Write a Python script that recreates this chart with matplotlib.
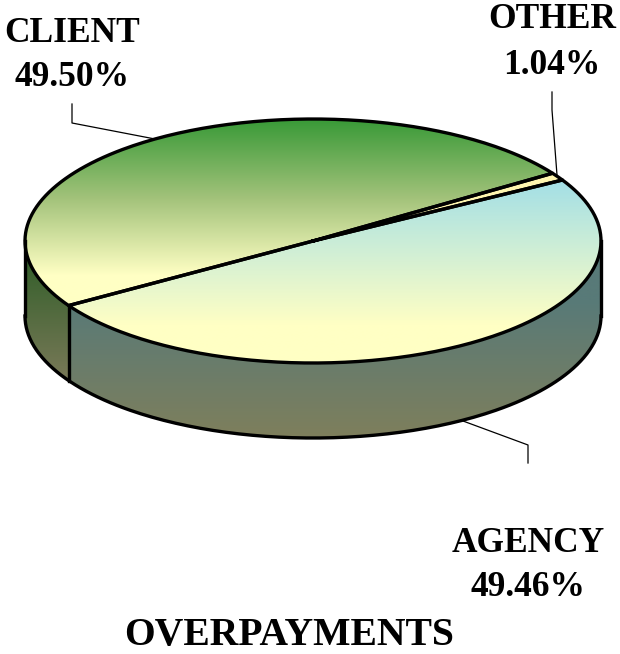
import numpy as np
import matplotlib
matplotlib.use('Agg')
import matplotlib.pyplot as plt
from matplotlib.colors import LinearSegmentedColormap
from matplotlib.patches import PathPatch
from matplotlib.path import Path

# clockwise order round the pie
categories = ['AGENCY', 'CLIENT', 'OTHER']
shares = [49.46, 49.50, 1.04]
top_colors = {'AGENCY': ['#a3dfe6', '#ffffc4'], 'CLIENT': ['#3a9a38', '#a2c27a', '#ffffc4'], 'OTHER': ['#fff6b0', '#fff6b0']}
top_spans = {'AGENCY': (180, 325), 'CLIENT': (120, 275), 'OTHER': (170, 240)}
side_colors = {'AGENCY': ['#587a78', '#7e7f5c'], 'CLIENT': ['#36602c', '#7c7a5a']}
side_spans = {'AGENCY': (300, 437), 'CLIENT': (262, 385)}

CX, CY, RX, RY, DEPTH = 313, 241, 288, 122, 75
START = 30
LW = 2.4


def arc(a0, a1, n=200):
    t = np.radians(np.linspace(a0, a1, n))
    return CX + RX * np.cos(t), CY - RY * np.sin(t)


def gradient_fill(ax, x, y, colors, span):
    # colours hold past the end of the span, so pad the image out to the shape
    cmap = LinearSegmentedColormap.from_list('g', colors)
    verts = np.column_stack([x, y])
    clip = PathPatch(Path(np.vstack([verts, verts[:1]]), closed=True), fc='none', ec='none', transform=ax.transData)
    ax.add_patch(clip)
    y0, y1 = y.min(), y.max()
    rows = np.linspace(y0, y1, 512)
    grad = np.clip((rows - span[0]) / (span[1] - span[0]), 0, 1).reshape(-1, 1)
    im = ax.imshow(grad, extent=(x.min(), x.max(), y1, y0), cmap=cmap, vmin=0, vmax=1,
                   aspect='auto', interpolation='bilinear', zorder=2)
    im.set_clip_path(clip)


def main():
    fig = plt.figure(figsize=(6.2, 6.54), dpi=100)
    ax = fig.add_axes([0, 0, 1, 1])

    edges = START - np.cumsum([0] + shares) * 3.6
    cut = edges[1]

    # side wall, front half only
    for name, lo, hi in [('AGENCY', 0, cut), ('CLIENT', cut, -180)]:
        x, y = arc(lo, hi)
        wx = np.concatenate([x, x[::-1]])
        wy = np.concatenate([y, y[::-1] + DEPTH])
        gradient_fill(ax, wx, wy, side_colors[name], side_spans[name])

    x, y = arc(0, -180)
    ax.plot(x, y + DEPTH, color='black', lw=LW, zorder=4)
    for ex in (CX - RX, CX + RX):
        ax.plot([ex, ex], [CY, CY + DEPTH], color='black', lw=LW, zorder=4)
    cx_, cy_ = arc(cut, cut, 1)
    ax.plot([cx_[0], cx_[0]], [cy_[0], cy_[0] + DEPTH], color='black', lw=LW, zorder=4)

    # top faces
    for i, name in enumerate(categories):
        x, y = arc(edges[i], edges[i + 1])
        sx = np.concatenate([[CX], x])
        sy = np.concatenate([[CY], y])
        gradient_fill(ax, sx, sy, top_colors[name], top_spans[name])
        ax.plot(np.append(sx, CX), np.append(sy, CY), color='black', lw=LW, zorder=4, solid_joinstyle='round')

    # leader lines
    ax.plot([72, 72, 155], [104, 123, 139], color='black', lw=0.9, zorder=3)
    ax.plot([552, 552, 557], [92, 110, 175], color='black', lw=0.9, zorder=3)
    ax.plot([463, 528, 528], [421, 445, 463], color='black', lw=0.9, zorder=3)

    font = dict(family='Liberation Serif', weight='bold', ha='center', va='center', color='black')
    labels = {'CLIENT': (72, 33, 78), 'OTHER': (552, 20, 65), 'AGENCY': (528, 543, 588)}
    for name, share in zip(categories, shares):
        lx, ly1, ly2 = labels[name]
        ax.text(lx, ly1, name, fontsize=25.5, **font)
        ax.text(lx, ly2, f'{share:.2f}%', fontsize=25.5, **font)
    ax.text(289, 636, 'OVERPAYMENTS', fontsize=28.5, **font)

    ax.set_xlim(0, 620)
    ax.set_ylim(654, 0)
    ax.axis('off')
    fig.savefig('out.png', dpi=100, facecolor='white')


if __name__ == '__main__':
    main()
